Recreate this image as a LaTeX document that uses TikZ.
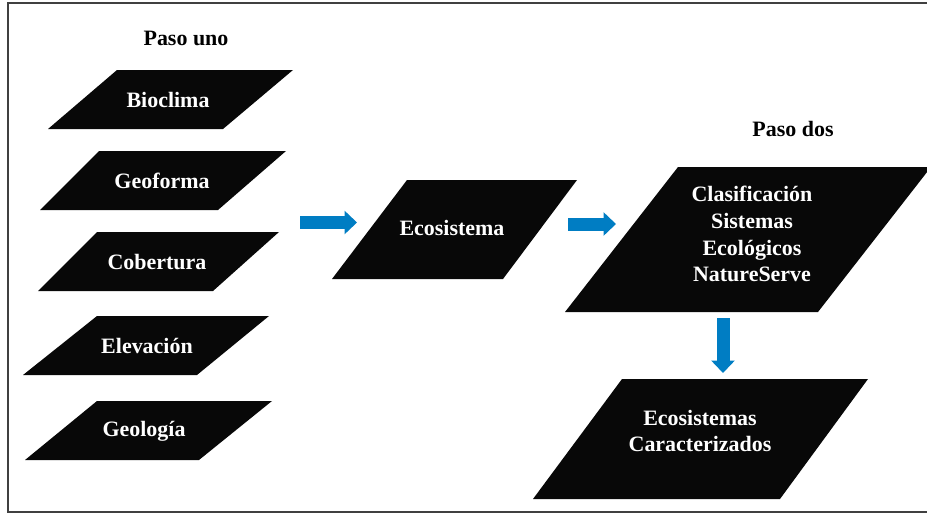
\documentclass[tikz,border=0pt]{standalone}
\usepackage{fontspec}
\setmainfont{Liberation Serif}
\usepackage{tikz}
\usetikzlibrary{arrows.meta}

\definecolor{flowblue}{RGB}{0,125,195}

\tikzset{
  slab/.style={fill=black!97},
  lbl/.style={text=white, font=\fontsize{12.5}{15.3}\selectfont\bfseries, align=center, inner sep=0pt},
  head/.style={text=black, font=\fontsize{12.5}{15.3}\selectfont\bfseries, inner sep=0pt},
  flow/.style={draw=flowblue, line width=0.26cm, -{Triangle[length=0.25cm,width=0.46cm]}},
  frame/.style={draw=black!75, line width=0.6pt}
}

\begin{document}
\begin{tikzpicture}[x=0.02cm,y=-0.02cm]
\useasboundingbox (0,0) rectangle (927,514);
\clip (0,0) rectangle (927,514);
\draw[frame] (927,3) -- (8,3) -- (8,512) -- (927,512); % open on the right

\node[head] (uno) at (186,38) {Paso uno};
\node[head] (dos) at (793,129) {Paso dos};

% paso uno: the five layers
\foreach \tl/\tr/\br/\bl/\cx/\cy/\nm/\txt in {
  117/293/223/48/168/100/bio/Bioclima,
  99/286/218/40/162/181/geo/Geoforma,
  97/279/213/38/157/262/cob/Cobertura,
  97/269/197/23/147/346/ele/Elevación,
  97/272/199/25/144/431/gel/Geología}
{
  \pgfmathsetmacro{\yt}{\cy-30}
  \pgfmathsetmacro{\yb}{\cy+29}
  \fill[slab] (\tl,\yt) -- (\tr,\yt) -- (\br,\yb) -- (\bl,\yb) -- cycle;
  \node[lbl] (\nm) at (\cx,\cy) {\txt};
}

% ecosistema
\fill[slab] (407,180) -- (577,180) -- (503,279) -- (332,279) -- cycle;
\node[lbl] (eco) at (452,228) {Ecosistema};

% paso dos
\fill[slab] (678,167) -- (931,167) -- (818,312) -- (565,312) -- cycle;
\node[lbl] (clas) at (752,234) {Clasificación\\Sistemas\\Ecológicos\\NatureServe};

\fill[slab] (622,379) -- (868,379) -- (780,499) -- (533,499) -- cycle;
\node[lbl] (car) at (700,431) {Ecosistemas\\Caracterizados};

% blue arrows
\coordinate (a1s) at (300,222.5);
\coordinate (a1e) at (357,222.5);
\coordinate (a2s) at (568,224);
\coordinate (a2e) at (616,224);
\coordinate (a3s) at (723,318);
\coordinate (a3e) at (723,373);
\draw[flow] (a1s) -- (a1e);
\draw[flow] (a2s) -- (a2e);
\draw[flow] (a3s) -- (a3e);
\end{tikzpicture}
\end{document}
